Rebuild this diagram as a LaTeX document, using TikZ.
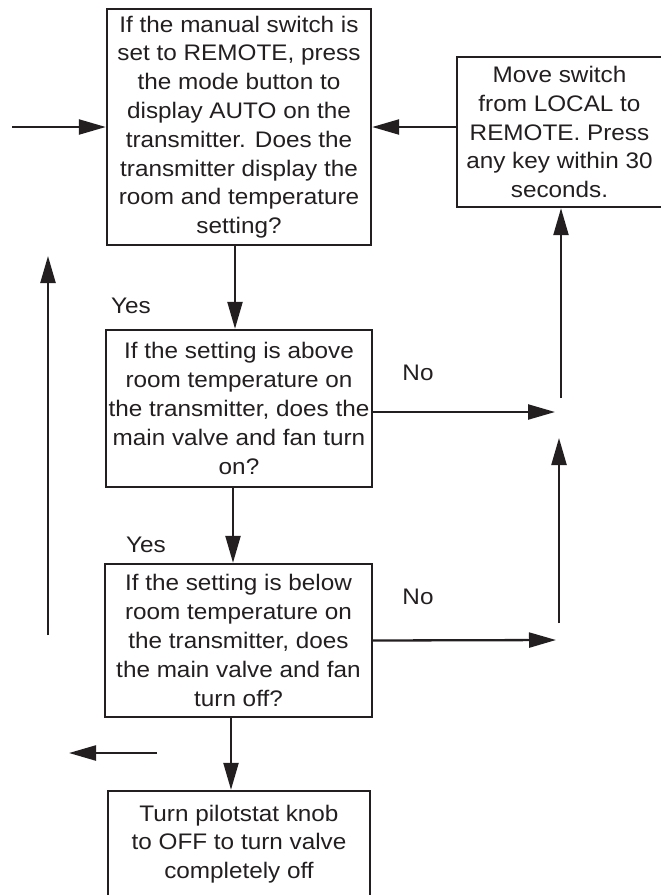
\documentclass[tikz,border=0pt]{standalone}
\usepackage{fontspec}
\setmainfont{Liberation Sans}[FakeStretch=1.08]
\usepackage{tikz}
\usetikzlibrary{arrows.meta}

\definecolor{ink}{HTML}{231F20}
\tikzset{
  stepbox/.style={draw=ink, line width=2.4pt, align=center, inner sep=0pt,
    text=ink, font=\fontsize{22.5}{28.8}\selectfont},
  flow/.style={draw=ink, line width=2.3pt, -{Triangle[length=27pt, width=15pt]}},
  tag/.style={text=ink, font=\fontsize{22.5}{26}\selectfont, inner sep=0pt}
}

\begin{document}
\begin{tikzpicture}[x=1pt, y=-1pt, line cap=butt, line join=miter]

  \useasboundingbox (0,0) rectangle (661,895);

  % Boxes
  \node[stepbox, minimum width=264pt, minimum height=236pt] (check) at (239,127)
    {If the manual switch is\\ set to REMOTE, press\\ the mode button to\\
     display AUTO on the\\ transmitter. Does the\\ transmitter display the\\
     room and temperature\\ setting?};
  \node[stepbox, minimum width=205pt, minimum height=150pt] (remote) at (559.5,132)
    {Move switch\\ from LOCAL to\\ REMOTE. Press\\ any key within 30\\ seconds.};
  \node[stepbox, minimum width=266pt, minimum height=157pt] (above) at (239,408.5)
    {If the setting is above\\ room temperature on\\ the transmitter, does the\\
     main valve and fan turn\\ on?};
  \node[stepbox, minimum width=267pt, minimum height=153pt] (below) at (238.5,640.5)
    {If the setting is below\\ room temperature on\\ the transmitter, does\\
     the main valve and fan\\ turn off?};
  \node[stepbox, minimum width=262pt, minimum height=106pt] (knob) at (239,844)
    {Turn pilotstat knob\\ to OFF to turn valve\\ completely off};

  % Free ends of the connectors
  \coordinate (entry)   at (12,127);
  \coordinate (noA)     at (555,412);
  \coordinate (noB)     at (556,640);
  \coordinate (riseA)   at (561,398);
  \coordinate (riseB)   at (559,623);
  \coordinate (riseBtop) at (559,438);
  \coordinate (backlow) at (48,635);
  \coordinate (backtop) at (48,256);
  \coordinate (outA)    at (157,753);
  \coordinate (outB)    at (69,753);

  % Main line
  \draw[flow] (entry) -- (check.west);
  \draw[flow] (remote.west |- check.east) -- (check.east);
  \draw[flow] ([xshift=-4pt]check.south) -- ([xshift=-4pt]check.south |- above.north);
  \draw[flow] ([xshift=-6pt]above.south) -- ([xshift=-6pt]above.south |- below.north);
  \draw[flow] ([xshift=-7.5pt]below.south) -- ([xshift=-7.5pt]below.south |- knob.north);

  % No branches
  \draw[flow] ([yshift=-3.5pt]above.east) -- (noA);
  \draw[flow] (below.east) -- (noB);
  \draw[flow] (riseA) -- (riseA |- remote.south);
  \draw[flow] (riseB) -- (riseBtop);

  % Loose arrows on the left
  \draw[flow] (backlow) -- (backtop);
  \draw[flow] (outA) -- (outB);

  % Labels
  \node[tag] (yesA) at (131,306) {Yes};
  \node[tag] (yesB) at (146,545) {Yes};
  \node[tag] (noAl) at (418,373) {No};
  \node[tag] (noBl) at (418,597) {No};

\end{tikzpicture}
\end{document}
